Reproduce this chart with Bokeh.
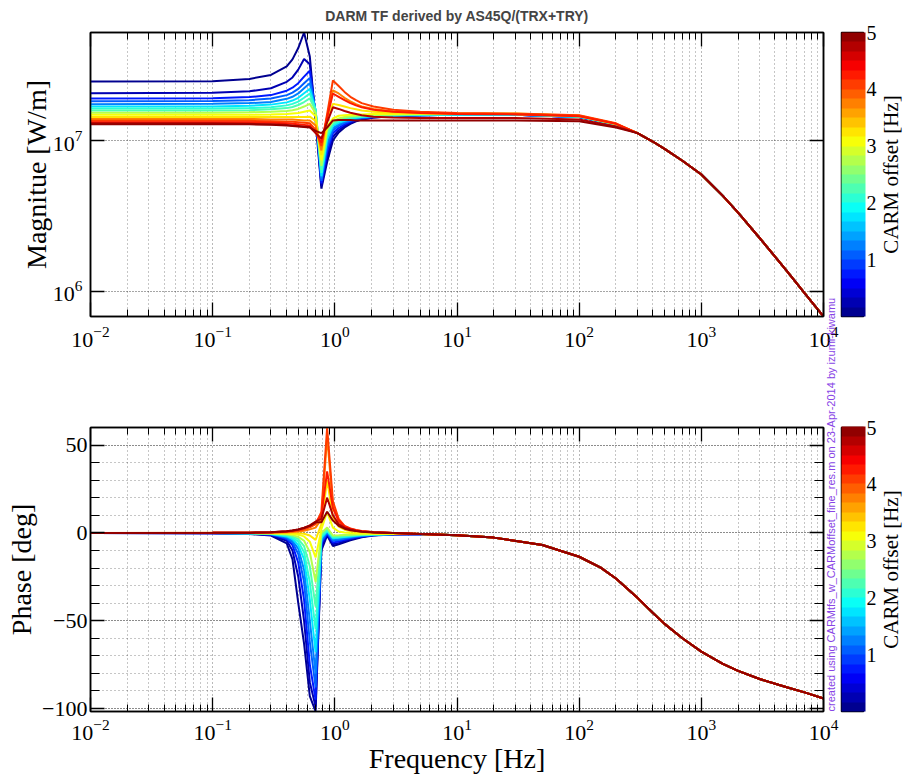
import math
from bokeh.plotting import figure
from bokeh.models import (Range1d, FixedTicker, LogAxis, LinearAxis, ColorBar,
                          LinearColorMapper, Title)
from bokeh.layouts import row, column
from bokeh.embed import file_html
from bokeh.resources import INLINE

# ---------------- values ----------------
carm_offsets = [0.0, 0.33, 0.67, 1.0, 1.33, 1.67, 2.0, 2.33, 2.67, 3.0,
                3.33, 3.67, 4.0, 4.33, 4.67, 5.0]                     # Hz

# frequency points (Hz) where each curve was read
freq_lf = [0.01, 0.1, 0.2, 0.3, 0.404, 0.45, 0.502, 0.56, 0.624, 0.696,
           0.776, 0.865, 0.9645, 1.075, 1.2, 1.34, 1.49, 1.66, 2.07, 3.0]
freq_mid = [5.0, 10.0, 30.0, 100.0, 200.0]
# common high-frequency part (all curves merge)
freq_mag_hf = [300.0, 400.0, 500.0, 700.0, 1000.0, 1500.0, 2000.0, 3000.0,
               5000.0, 7000.0, 10000.0]
mag_hf = [1.12, 0.985, 0.88, 0.735, 0.595, 0.43, 0.333, 0.226, 0.137, 0.0975, 0.0682]   # x1e7 W/m
freq_ph_hf = [5.0, 10.0, 20.0, 50.0, 100.0, 150.0, 200.0, 300.0, 400.0, 500.0,
              700.0, 1000.0, 1500.0, 2000.0, 3000.0, 5000.0, 7000.0, 10000.0]
phase_hf = [-0.7, -1.4, -2.7, -6.9, -13.6, -19.8, -26.0, -37.0, -45.5, -51.8,
            -60.0, -67.6, -74.6, -78.6, -83.2, -87.9, -90.8, -94.3]          # deg

# magnitude per CARM offset (x1e7 W/m) at freq_lf + freq_mid
mag_00 = [2.46, 2.47, 2.56, 2.72, 3.10, 3.45, 4.10, 5.20, 3.60, 1.35, 0.48, 0.72, 1.00, 1.13, 1.22, 1.29, 1.34, 1.38, 1.42, 1.45, 1.47, 1.48, 1.48, 1.43, 1.27]
mag_01 = [2.06, 2.07, 2.12, 2.22, 2.45, 2.62, 2.95, 3.47, 3.20, 1.45, 0.50, 0.78, 1.06, 1.17, 1.25, 1.31, 1.35, 1.38, 1.42, 1.45, 1.47, 1.48, 1.48, 1.43, 1.27]
mag_02 = [1.90, 1.91, 1.94, 2.00, 2.14, 2.24, 2.40, 2.65, 2.90, 1.50, 0.52, 0.84, 1.12, 1.21, 1.28, 1.33, 1.37, 1.40, 1.43, 1.46, 1.47, 1.48, 1.48, 1.43, 1.27]
mag_03 = [1.82, 1.83, 1.85, 1.90, 2.00, 2.08, 2.20, 2.40, 2.60, 1.55, 0.54, 0.90, 1.17, 1.25, 1.31, 1.35, 1.38, 1.41, 1.44, 1.46, 1.47, 1.48, 1.48, 1.43, 1.27]
mag_04 = [1.74, 1.75, 1.77, 1.80, 1.89, 1.95, 2.05, 2.22, 2.40, 1.58, 0.56, 0.96, 1.21, 1.28, 1.33, 1.37, 1.40, 1.42, 1.44, 1.46, 1.47, 1.48, 1.48, 1.43, 1.27]
mag_05 = [1.68, 1.68, 1.70, 1.73, 1.79, 1.84, 1.92, 2.06, 2.20, 1.60, 0.58, 1.02, 1.25, 1.31, 1.35, 1.39, 1.41, 1.43, 1.45, 1.47, 1.48, 1.49, 1.49, 1.44, 1.28]
mag_06 = [1.63, 1.63, 1.64, 1.66, 1.71, 1.75, 1.81, 1.92, 2.05, 1.60, 0.61, 1.08, 1.28, 1.34, 1.38, 1.41, 1.43, 1.44, 1.46, 1.47, 1.48, 1.49, 1.49, 1.44, 1.28]
mag_07 = [1.58, 1.58, 1.59, 1.61, 1.64, 1.67, 1.72, 1.80, 1.90, 1.58, 0.64, 1.13, 1.31, 1.37, 1.40, 1.43, 1.44, 1.45, 1.47, 1.48, 1.49, 1.50, 1.50, 1.45, 1.28]
mag_08 = [1.53, 1.53, 1.54, 1.55, 1.57, 1.59, 1.62, 1.68, 1.75, 1.52, 0.68, 1.18, 1.34, 1.40, 1.43, 1.45, 1.46, 1.47, 1.48, 1.49, 1.50, 1.50, 1.50, 1.45, 1.28]
mag_09 = [1.48, 1.48, 1.48, 1.49, 1.50, 1.51, 1.52, 1.55, 1.58, 1.45, 0.74, 1.24, 1.40, 1.46, 1.47, 1.48, 1.49, 1.49, 1.50, 1.50, 1.51, 1.51, 1.51, 1.46, 1.29]
mag_10 = [1.43, 1.43, 1.43, 1.43, 1.43, 1.43, 1.43, 1.43, 1.44, 1.35, 0.80, 1.35, 1.75, 1.72, 1.68, 1.64, 1.61, 1.58, 1.55, 1.53, 1.51, 1.50, 1.50, 1.46, 1.29]
mag_11 = [1.39, 1.39, 1.39, 1.38, 1.38, 1.38, 1.37, 1.36, 1.36, 1.26, 0.86, 1.45, 2.15, 2.05, 1.92, 1.82, 1.74, 1.68, 1.62, 1.56, 1.53, 1.51, 1.50, 1.46, 1.29]
mag_12 = [1.35, 1.35, 1.35, 1.34, 1.33, 1.33, 1.32, 1.31, 1.30, 1.18, 0.92, 1.50, 2.50, 2.30, 2.10, 1.95, 1.85, 1.77, 1.68, 1.60, 1.55, 1.52, 1.51, 1.47, 1.30]
mag_13 = [1.32, 1.32, 1.32, 1.31, 1.30, 1.29, 1.28, 1.27, 1.26, 1.13, 0.97, 1.42, 2.05, 1.95, 1.85, 1.77, 1.71, 1.66, 1.60, 1.55, 1.52, 1.50, 1.49, 1.45, 1.29]
mag_14 = [1.30, 1.30, 1.29, 1.28, 1.27, 1.26, 1.25, 1.24, 1.23, 1.12, 1.03, 1.32, 1.66, 1.62, 1.57, 1.53, 1.50, 1.47, 1.44, 1.42, 1.41, 1.41, 1.41, 1.38, 1.24]
mag_15 = [1.28, 1.28, 1.28, 1.27, 1.26, 1.25, 1.24, 1.23, 1.22, 1.16, 1.12, 1.22, 1.36, 1.37, 1.37, 1.37, 1.36, 1.36, 1.36, 1.36, 1.36, 1.36, 1.36, 1.34, 1.22]

# phase per CARM offset (deg) at freq_lf
phase_00 = [0.0, -0.2, -0.6, -1.5, -6.0, -15.0, -40.0, -63.0, -93.0, -101.7, -10.0, -1.5, -7.5, -6.5, -5.3, -4.2, -3.3, -2.5, -1.5, -0.9]
phase_01 = [0.0, -0.2, -0.5, -1.2, -4.5, -10.0, -25.0, -50.0, -85.0, -99.0, -8.0, -1.0, -6.5, -5.7, -4.7, -3.7, -2.9, -2.2, -1.4, -0.85]
phase_02 = [0.0, -0.15, -0.4, -1.0, -3.5, -7.0, -17.0, -38.0, -75.0, -95.0, -6.0, -0.5, -5.5, -4.9, -4.0, -3.2, -2.6, -2.0, -1.3, -0.8]
phase_03 = [0.0, -0.1, -0.35, -0.8, -3.0, -5.5, -12.0, -28.0, -62.0, -88.0, -5.0, 0.0, -4.5, -4.1, -3.4, -2.8, -2.2, -1.8, -1.2, -0.75]
phase_04 = [0.0, -0.1, -0.3, -0.7, -2.5, -4.5, -9.0, -21.0, -50.0, -80.0, -4.0, 0.5, -3.8, -3.5, -2.9, -2.4, -1.9, -1.6, -1.1, -0.7]
phase_05 = [0.0, -0.1, -0.25, -0.6, -2.0, -3.5, -7.0, -15.0, -38.0, -68.0, -3.0, 1.0, -3.0, -2.8, -2.4, -2.0, -1.7, -1.4, -1.0, -0.7]
phase_06 = [0.0, -0.1, -0.2, -0.5, -1.5, -2.7, -5.0, -11.0, -28.0, -55.0, -2.0, 1.5, -2.5, -2.3, -2.0, -1.7, -1.4, -1.2, -0.9, -0.65]
phase_07 = [0.0, -0.05, -0.15, -0.4, -1.1, -2.0, -3.5, -7.5, -19.0, -42.0, -1.0, 2.0, -2.0, -1.9, -1.6, -1.4, -1.2, -1.0, -0.8, -0.6]
phase_08 = [0.0, -0.05, -0.1, -0.3, -0.8, -1.3, -2.3, -4.5, -11.0, -28.0, 0.0, 3.0, -1.5, -1.4, -1.2, -1.0, -0.9, -0.8, -0.7, -0.55]
phase_09 = [0.0, 0.0, -0.05, -0.2, -0.4, -0.6, -1.0, -2.0, -5.0, -14.0, 2.0, 12.0, 3.0, 0.8, 0.2, -0.1, -0.3, -0.4, -0.45, -0.45]
phase_10 = [0.0, 0.0, 0.0, 0.0, -0.1, -0.1, -0.2, -0.5, -1.5, -4.0, 5.0, 30.0, 9.0, 3.5, 1.8, 1.0, 0.6, 0.3, 0.0, -0.3]
phase_11 = [0.0, 0.02, 0.05, 0.1, 0.3, 0.5, 0.8, 1.2, 2.0, 3.0, 8.0, 55.0, 15.0, 6.5, 3.3, 2.0, 1.3, 0.8, 0.3, -0.1]
phase_12 = [0.0, 0.03, 0.1, 0.2, 0.6, 0.9, 1.4, 2.1, 3.2, 5.0, 12.0, 60.0, 18.0, 8.0, 4.0, 2.5, 1.6, 1.1, 0.5, 0.0]
phase_13 = [0.0, 0.04, 0.12, 0.3, 0.8, 1.2, 1.8, 2.7, 4.0, 6.0, 10.0, 35.0, 14.0, 7.0, 3.8, 2.3, 1.5, 1.0, 0.4, 0.0]
phase_14 = [0.0, 0.04, 0.12, 0.3, 0.9, 1.4, 2.0, 3.0, 4.3, 6.5, 8.0, 20.0, 10.0, 5.0, 3.0, 1.9, 1.2, 0.8, 0.3, -0.1]
phase_15 = [0.0, 0.04, 0.12, 0.3, 0.9, 1.3, 1.9, 2.8, 4.0, 6.0, 6.0, 12.0, 7.0, 4.0, 2.4, 1.5, 1.0, 0.6, 0.2, -0.1]

x_tick_decades = [1e-2, 1e-1, 1e0, 1e1, 1e2, 1e3, 1e4]
mag_ticks = [1e6, 1e7]
phase_ticks = [-100, -50, 0, 50]
phase_tick_labels = ["\u2212100", "\u221250", "0", "50"]
cbar_ticks = [1, 2, 3, 4, 5]

TITLE = "DARM TF derived by AS45Q/(TRX+TRY)"
NOTE = "created using CARMtfs_w_CARMoffset_fine_res.m on 23-Apr-2014 by izumi-kiwamu"
CB_LABEL = "CARM offset [Hz]"

mag_curves = [mag_00, mag_01, mag_02, mag_03, mag_04, mag_05, mag_06, mag_07,
              mag_08, mag_09, mag_10, mag_11, mag_12, mag_13, mag_14, mag_15]
phase_curves = [phase_00, phase_01, phase_02, phase_03, phase_04, phase_05, phase_06, phase_07,
                phase_08, phase_09, phase_10, phase_11, phase_12, phase_13, phase_14, phase_15]

# ---------------- styling ----------------
SERIF = "Liberation Serif"
SANS = "Liberation Sans"
N_BANDS = 30
CB_LOW, CB_HIGH = 0.0, 5.0
OVERLAP = 110          # bottom row drawn over the lower edge of the top row


def jet_hex(t):
    def c(v):
        return max(0.0, min(1.0, v))
    r = c(min(4 * t - 1.5, -4 * t + 4.5))
    g = c(min(4 * t - 0.5, -4 * t + 3.5))
    b = c(min(4 * t + 0.5, -4 * t + 2.5))
    return "#%02x%02x%02x" % (int(round(r * 255)), int(round(g * 255)), int(round(b * 255)))


jet_palette = [jet_hex((i + 0.5) / N_BANDS) for i in range(N_BANDS)]


def curve_color(o):
    idx = int((o - CB_LOW) / (CB_HIGH - CB_LOW) * N_BANDS + 1e-9)
    return jet_palette[max(0, min(N_BANDS - 1, idx))]


x_minor = [m * d for d in x_tick_decades[:-1] for m in range(2, 10)]
ph_minor = [v for v in range(-100, 61, 10) if v % 50 != 0]


def style_axis(ax, label_size="22px", hide=False, major_in=14, minor_in=7):
    ax.major_tick_in = major_in
    ax.major_tick_out = 0
    ax.minor_tick_in = minor_in
    ax.minor_tick_out = 0
    ax.major_tick_line_color = "black"
    ax.minor_tick_line_color = "black"
    ax.major_tick_line_width = 1.3
    ax.minor_tick_line_width = 1.0
    ax.axis_line_color = "black"
    ax.axis_line_width = 1.5
    ax.major_label_text_font = SERIF
    ax.major_label_text_font_size = label_size
    ax.major_label_text_color = "black"
    ax.axis_label_text_font = SERIF
    ax.axis_label_text_font_size = "28px"
    ax.axis_label_text_font_style = "normal"
    ax.axis_label_text_color = "black"
    if hide:
        ax.major_label_text_font_size = "0px"
        ax.major_label_standoff = 0


def style_grid(p, y_major_alpha, y_minor):
    p.xgrid.grid_line_color = "black"
    p.xgrid.grid_line_alpha = 0.55
    p.xgrid.grid_line_dash = "1 3"
    p.xgrid.minor_grid_line_color = "black"
    p.xgrid.minor_grid_line_alpha = 0.45
    p.xgrid.minor_grid_line_dash = "1 3"
    p.ygrid.grid_line_color = "black"
    p.ygrid.grid_line_alpha = y_major_alpha
    p.ygrid.grid_line_dash = "1 2"
    if y_minor:
        p.ygrid.minor_grid_line_color = "black"
        p.ygrid.minor_grid_line_alpha = 0.45
        p.ygrid.minor_grid_line_dash = "1 3"
    else:
        p.ygrid.minor_grid_line_color = None


# ---------------- top: magnitude ----------------
top = figure(width=841, height=400, x_axis_type="log", y_axis_type="log",
             x_range=Range1d(1e-2, 1e4), y_range=Range1d(6.82e5, 5.2e7),
             toolbar_location=None, output_backend="svg",
             min_border_left=90, min_border_right=18, min_border_top=32, min_border_bottom=84,
             title=TITLE)
top.title.text_font = SANS
top.title.text_font_size = "14px"
top.title.text_font_style = "bold"
top.title.align = "center"
top.title.vertical_align = "top"
top.title.text_line_height = 0.8
top.title.standoff = 14
top.outline_line_color = "black"
top.outline_line_width = 1.5

xt = FixedTicker(ticks=x_tick_decades, minor_ticks=x_minor)
yt_mag = FixedTicker(ticks=mag_ticks, minor_ticks=[])
top.xaxis.ticker = xt
top.yaxis.ticker = yt_mag
style_axis(top.xaxis[0])
style_axis(top.yaxis[0])
top.xaxis.major_label_standoff = 10
top.yaxis.major_label_standoff = 8
top.yaxis.axis_label = "Magnitue [W/m]"
top.yaxis.axis_label_standoff = -2

ax_top_above = LogAxis(ticker=xt, major_label_overrides={v: "" for v in x_tick_decades})
style_axis(ax_top_above, hide=True)
top.add_layout(ax_top_above, "above")
ax_top_right = LogAxis(ticker=yt_mag, major_label_overrides={v: "" for v in mag_ticks})
style_axis(ax_top_right, hide=True)
top.add_layout(ax_top_right, "right")
style_grid(top, 0.7, False)

for o, mv in zip(carm_offsets, mag_curves):
    xs = freq_lf + freq_mid + freq_mag_hf
    ys = [v * 1e7 for v in mv] + [v * 1e7 for v in mag_hf]
    top.line(xs, ys, line_color=curve_color(o), line_width=2)

# ---------------- bottom: phase ----------------
BOT_H = 376 + OVERLAP
BOT_TOP = 27 + OVERLAP
bot = figure(width=841, height=BOT_H, x_axis_type="log",
             x_range=Range1d(1e-2, 1e4), y_range=Range1d(-101.7, 60),
             toolbar_location=None, output_backend="svg",
             min_border_left=90, min_border_right=18, min_border_top=BOT_TOP, min_border_bottom=64)
bot.border_fill_alpha = 0
bot.outline_line_color = "black"
bot.outline_line_width = 1.5
yt_ph = FixedTicker(ticks=phase_ticks, minor_ticks=ph_minor)
bot.xaxis.ticker = xt
bot.yaxis.ticker = yt_ph
style_axis(bot.xaxis[0])
style_axis(bot.yaxis[0], minor_in=9)
bot.xaxis.major_label_standoff = 8
bot.yaxis.major_label_standoff = 3
bot.yaxis.major_label_overrides = dict(zip(phase_ticks, phase_tick_labels))
bot.xaxis.axis_label = "Frequency [Hz]"
bot.xaxis.axis_label_standoff = 0
bot.yaxis.axis_label = "Phase [deg]"
bot.yaxis.axis_label_standoff = 2

ax_bot_above = LogAxis(ticker=xt, major_label_overrides={v: "" for v in x_tick_decades})
style_axis(ax_bot_above, hide=True)
bot.add_layout(ax_bot_above, "above")
ax_bot_right = LinearAxis(ticker=yt_ph, major_label_overrides={v: "" for v in phase_ticks})
style_axis(ax_bot_right, hide=True, minor_in=9)
bot.add_layout(ax_bot_right, "right")
style_grid(bot, 0.9, True)

for o, pv in zip(carm_offsets, phase_curves):
    bot.line(freq_lf + freq_ph_hf, pv + phase_hf, line_color=curve_color(o), line_width=2)


# ---------------- colour bars ----------------
def make_cbar(height, frame_h, b_top, b_bottom, note=None):
    cb = figure(width=62, height=height, x_range=Range1d(0, 1), y_range=Range1d(CB_LOW, CB_HIGH),
                x_axis_location=None, y_axis_location="right",
                toolbar_location=None, output_backend="svg",
                min_border_left=24, min_border_right=14, min_border_top=b_top,
                min_border_bottom=b_bottom)
    cb.border_fill_alpha = 0
    cb.grid.visible = False
    cb.outline_line_color = "black"
    cb.outline_line_width = 1.5
    mapper = LinearColorMapper(palette=jet_palette, low=CB_LOW, high=CB_HIGH)
    bar = ColorBar(color_mapper=mapper, orientation="vertical", location=(0, 0),
                   width=24, height=frame_h, padding=0, margin=0,
                   ticker=FixedTicker(ticks=[]), major_label_text_font_size="0px",
                   major_tick_line_color=None, minor_tick_line_color=None,
                   bar_line_color=None, border_line_color=None,
                   background_fill_alpha=0, label_standoff=0)
    cb.add_layout(bar, "center")
    ax = cb.yaxis[0]
    ax.ticker = FixedTicker(ticks=cbar_ticks, minor_ticks=[])
    ax.major_tick_in = 5
    ax.major_tick_out = 0
    ax.minor_tick_line_color = None
    ax.major_tick_line_color = "black"
    ax.axis_line_color = "black"
    ax.major_label_text_font = SERIF
    ax.major_label_text_font_size = "20px"
    ax.major_label_text_color = "black"
    ax.major_label_standoff = 3
    if note is not None:
        t = Title(text=note, align="left", vertical_align="bottom", standoff=10,
                  text_font=SANS, text_font_size="11px", text_font_style="normal",
                  text_color="#8844e6")
        cb.add_layout(t, "left")
    cb.margin = (0, 0, 0, -24)
    return cb


def make_cb_label(height, b_top, b_bottom):
    lf = figure(width=26, height=height, x_range=Range1d(0, 1), y_range=Range1d(0, 1),
                x_axis_location=None, y_axis_location=None,
                toolbar_location=None, output_backend="svg",
                min_border_left=25, min_border_right=0, min_border_top=b_top,
                min_border_bottom=b_bottom)
    lf.border_fill_alpha = 0
    lf.background_fill_alpha = 0
    lf.outline_line_color = None
    lf.grid.visible = False
    t = Title(text=CB_LABEL, align="center", vertical_align="bottom", standoff=2,
              text_font=SERIF, text_font_size="21px", text_font_style="normal",
              text_color="black")
    lf.add_layout(t, "left")
    lf.margin = (0, 0, 0, -2)
    return lf


top_cb = make_cbar(400, 284, 32, 84)
bot_cb = make_cbar(BOT_H, 285, BOT_TOP, 64, note=NOTE)
top_lab = make_cb_label(400, 32, 84)
bot_lab = make_cb_label(BOT_H, BOT_TOP, 64)

top_row = row(top, top_cb, top_lab)
bottom_row = row(bot, bot_cb, bot_lab)
bottom_row.margin = (-OVERLAP, 0, 0, 0)
layout = column(top_row, bottom_row)

open("out.html", "w").write(file_html(layout, INLINE))
